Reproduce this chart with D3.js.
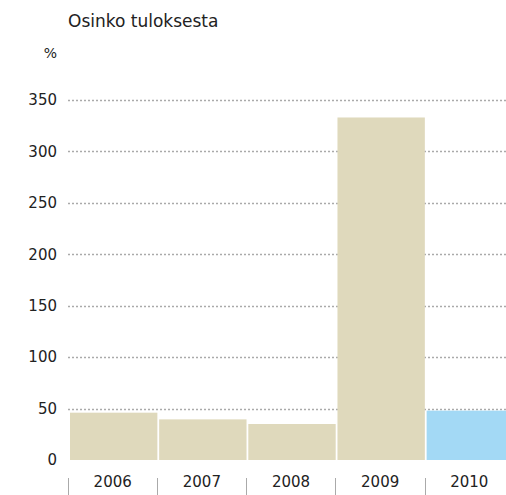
<!DOCTYPE html>
<html>
<head>
<meta charset="utf-8">
<script src="https://cdn.jsdelivr.net/npm/d3@7"></script>
<style>
  body { margin: 0; background: #fff; }
  text { font-family: "DejaVu Sans", sans-serif; fill: #222; }
</style>
</head>
<body>
<div id="chart"></div>
<script>
var years = ["2006", "2007", "2008", "2009", "2010"];
var payout = [46, 39.5, 35, 333, 48];
var yTicks = [0, 50, 100, 150, 200, 250, 300, 350];

var width = 506, height = 495;
var margin = { top: 100, bottom: 35, left: 69 };
var font = "'DejaVu Sans', sans-serif";

var svg = d3.select("#chart").append("svg")
  .attr("width", width)
  .attr("height", height);

// last band runs past the right edge, as in the original
var x = d3.scaleBand()
  .domain(years)
  .range([margin.left, 513])
  .paddingInner(0.02)
  .paddingOuter(0);

var y = d3.scaleLinear()
  .domain([0, 350])
  .range([height - margin.bottom, margin.top]);

// title + unit
svg.append("text")
  .attr("x", 68).attr("y", 27)
  .attr("font-size", 17)
  .text("Osinko tuloksesta");
svg.append("text")
  .attr("x", 57).attr("y", 58)
  .attr("text-anchor", "end")
  .attr("font-size", 14)
  .attr("fill", "#444")
  .text("%");

// dotted gridlines (not at zero)
svg.append("g")
  .selectAll("line")
  .data(yTicks.filter(d => d > 0))
  .enter().append("line")
  .attr("x1", 68).attr("x2", width)
  .attr("y1", d => Math.round(y(d)) + 0.5)
  .attr("y2", d => Math.round(y(d)) + 0.5)
  .attr("stroke", "#aaa")
  .attr("stroke-width", 1.3)
  .attr("stroke-dasharray", "2,2");

// y axis labels
var yAxis = svg.append("g")
  .attr("transform", "translate(" + (margin.left - 12) + ",0)")
  .call(d3.axisLeft(y).tickValues(yTicks).tickSize(0).tickPadding(0));
yAxis.select(".domain").remove();
yAxis.attr("font-size", 15).attr("font-family", font);
yAxis.selectAll("text").attr("fill", "#222");

// bars
svg.append("g")
  .selectAll("rect")
  .data(years)
  .enter().append("rect")
  .attr("x", d => x(d) + 1)
  .attr("width", x.bandwidth())
  .attr("y", (d, i) => y(payout[i]))
  .attr("height", (d, i) => y(0) - y(payout[i]))
  .attr("fill", (d, i) => i === years.length - 1 ? "#a3d9f5" : "#dfd9bc");

// category separators
svg.append("g")
  .selectAll("line")
  .data(years)
  .enter().append("line")
  .attr("x1", d => Math.round(x(d)) - 0.5)
  .attr("x2", d => Math.round(x(d)) - 0.5)
  .attr("y1", 478).attr("y2", 495)
  .attr("stroke", "#aaa")
  .attr("stroke-width", 1);

// x labels
var xAxis = svg.append("g")
  .attr("transform", "translate(0," + (height - 19) + ")")
  .call(d3.axisBottom(x).tickSize(0).tickPadding(0));
xAxis.select(".domain").remove();
xAxis.attr("font-size", 15).attr("font-family", font);
xAxis.selectAll("text")
  .attr("dy", "0.75em")
  .attr("fill", "#222");
</script>
</body>
</html>
